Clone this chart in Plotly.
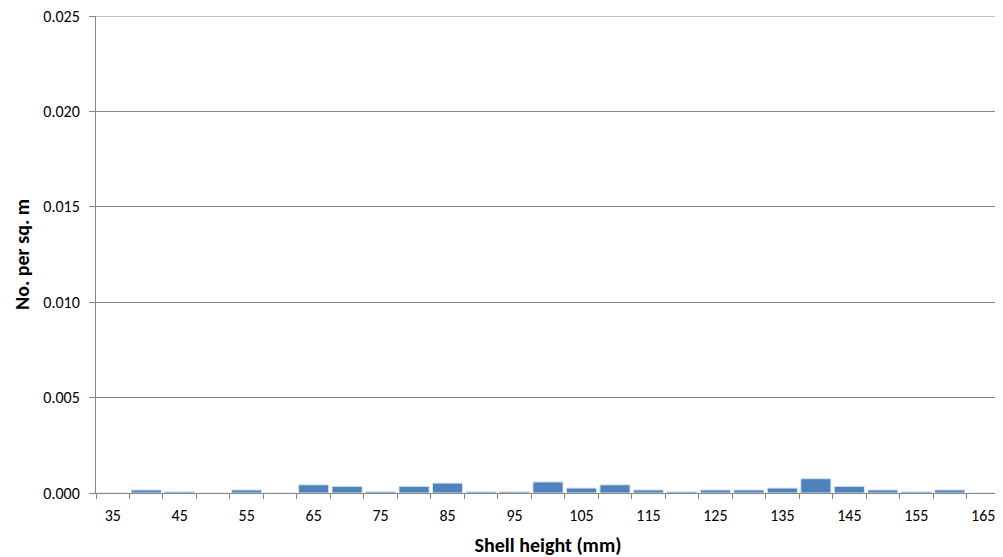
import plotly.graph_objects as go

categories = [str(v) for v in range(35, 170, 5)]
values = [0.0, 0.00016, 0.00007, 0.0, 0.00016, 0.0, 0.00043, 0.00035, 0.00008,
          0.00035, 0.00052, 0.00007, 0.00007, 0.00058, 0.00026, 0.00043, 0.00016,
          0.00007, 0.00016, 0.00016, 0.00026, 0.00075, 0.00035, 0.00016, 0.00007,
          0.00016, 0.0]
tick_labels = [c if i % 2 == 0 else "" for i, c in enumerate(categories)]
y_ticks = [0, 0.005, 0.01, 0.015, 0.02, 0.025]

font = "Carlito, Calibri, Lato, 'Open Sans', sans-serif"

fig = go.Figure(go.Bar(
    x=categories, y=values,
    marker=dict(color="#4F81BD", line=dict(color="#DCE6F2", width=1)),
))

fig.update_layout(
    width=995, height=549,
    margin=dict(l=88, r=3, t=8, b=64),
    plot_bgcolor="white", paper_bgcolor="white",
    bargap=0.1,
    showlegend=False,
    font=dict(family=font, size=16, color="#000000"),
)
fig.add_shape(type="line", xref="paper", yref="y", x0=0, x1=1,
              y0=y_ticks[-1], y1=y_ticks[-1],
              line=dict(color="#868686", width=1), layer="below")
fig.update_xaxes(
    type="category", automargin=False,
    tickmode="array", tickvals=categories, ticktext=tick_labels,
    tickson="boundaries", ticks="outside", ticklen=5, tickcolor="#868686",
    ticklabelstandoff=8,
    showline=True, linecolor="#868686", linewidth=1,
    showgrid=False,
    title=dict(text="<b>Shell height (mm)</b>", font=dict(size=20), standoff=14),
    tickfont=dict(size=16),
)
fig.update_yaxes(
    range=[0, 0.025], tickmode="array", automargin=False,
    tickvals=y_ticks,
    ticktext=[f"{v:.3f}" for v in y_ticks],
    ticks="outside", ticklen=6, tickcolor="#868686",
    ticklabelstandoff=6, ticklabeloverflow="allow",
    showline=True, linecolor="#868686", linewidth=1,
    showgrid=True, gridcolor="#868686", gridwidth=1,
    zeroline=False,
    title=dict(text="<b>No. per sq. m</b>", font=dict(size=20), standoff=8),
    tickfont=dict(size=16),
)

fig.write_html("out.html")
